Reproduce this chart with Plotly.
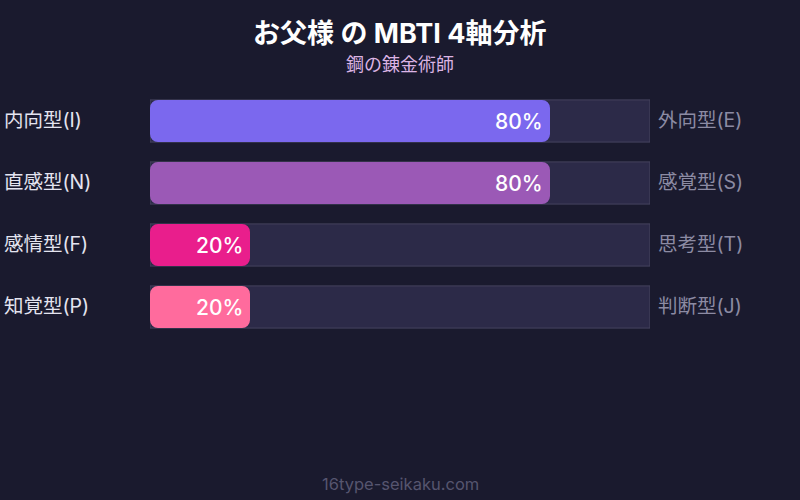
import plotly.graph_objects as go

# MBTI axis data
left_labels = ["内向型(I)", "直感型(N)", "感情型(F)", "知覚型(P)"]
right_labels = ["外向型(E)", "感覚型(S)", "思考型(T)", "判断型(J)"]
scores = [80, 80, 20, 20]
bar_colors = ["#7b68ee", "#9b59b6", "#e91e8c", "#ff6b9d"]
full_scale = [100, 100, 100, 100]

title_text = "お父様 の MBTI 4軸分析"
subtitle_text = "鋼の錬金術師"
footer_text = "16type-seikaku.com"

FONT = "Inter, 'Noto Sans CJK JP', sans-serif"
BG = "#1a1a2e"

fig = go.Figure()

# background track
fig.add_trace(go.Bar(
    y=left_labels, x=full_scale, orientation="h",
    marker=dict(color="#2c2a48", line=dict(color="#46445f", width=1)),
    hoverinfo="skip", showlegend=False,
))

# score bars, drawn from the score back to 0 (non-zero base -> both ends rounded)
fig.add_trace(go.Bar(
    y=left_labels, x=[-s for s in scores], base=scores, orientation="h",
    yaxis="y2",
    marker=dict(color=bar_colors, cornerradius=8, line=dict(width=0)),
    showlegend=False,
))

for i in range(len(left_labels)):
    fig.add_annotation(x=scores[i], xref="x", xshift=-5, xanchor="right",
                       y=left_labels[i], yref="y", text=f"{scores[i]}%",
                       showarrow=False,
                       font=dict(family=FONT, size=21, color="white", weight=500))
    fig.add_annotation(x=0, xref="paper", xshift=-148, xanchor="left",
                       y=left_labels[i], yref="y", yshift=1, text=left_labels[i],
                       showarrow=False,
                       font=dict(family=FONT, size=19.5, color="#e4e4f0"))
    fig.add_annotation(x=1, xref="paper", xshift=6, xanchor="left",
                       y=left_labels[i], yref="y", yshift=1, text=right_labels[i],
                       showarrow=False,
                       font=dict(family=FONT, size=19.5, color="#8c8ba3"))

header = [(title_text, 33, 27, "white", True),
          (subtitle_text, 64, 18, "#dcb4e4", False),
          (footer_text, 484, 16.5, "#56556f", False)]

# pixel y -> paper coords
plot_top, plot_h = 90, 248
for text, py, size, color, bold in header:
    fig.add_annotation(x=0.5, xref="paper", y=(plot_top + plot_h - py) / plot_h,
                       yref="paper", yanchor="middle",
                       text=f"<b>{text}</b>" if bold else text, showarrow=False,
                       font=dict(family=FONT, size=size, color=color))

yax = dict(autorange="reversed", visible=False, fixedrange=True)
fig.update_layout(
    width=800, height=500,
    margin=dict(l=150, r=150, t=90, b=162),
    paper_bgcolor=BG, plot_bgcolor=BG,
    barmode="overlay", bargap=0.32,
    xaxis=dict(range=[0, 100], visible=False, fixedrange=True),
    yaxis=yax,
    yaxis2=dict(yax, overlaying="y"),
    font=dict(family=FONT),
)

fig.write_html("out.html", config={"displayModeBar": False},
               post_script="document.body.style.margin='0';")
